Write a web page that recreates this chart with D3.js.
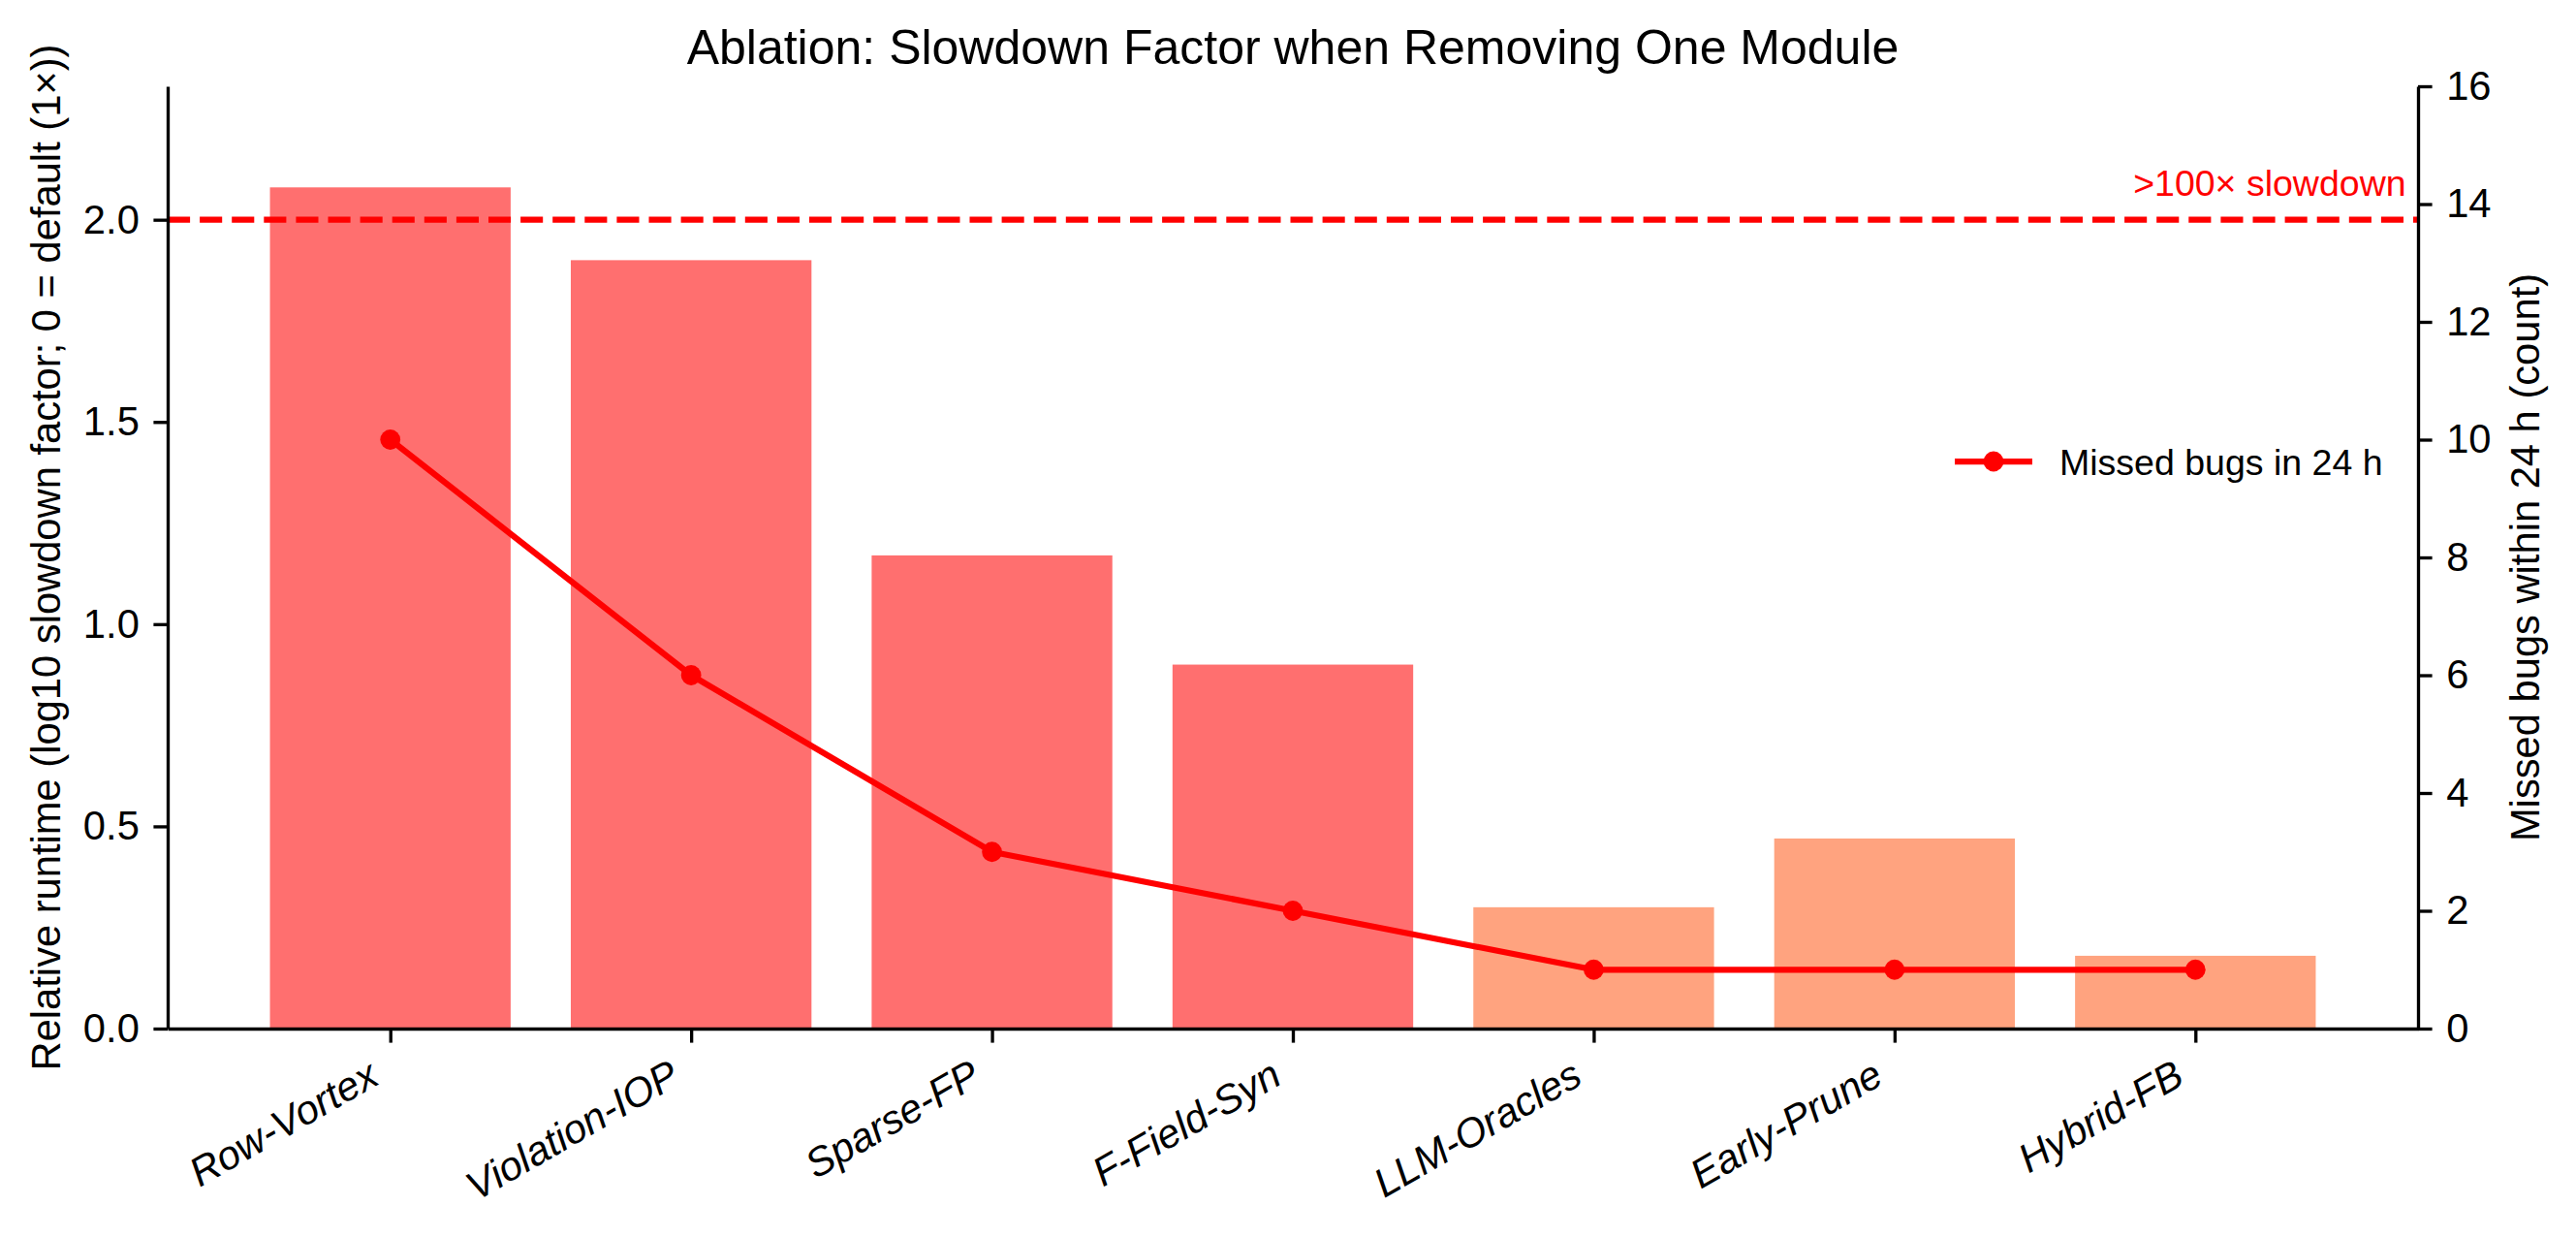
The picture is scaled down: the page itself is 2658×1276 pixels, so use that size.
<!DOCTYPE html>
<html>
<head>
<meta charset="utf-8">
<script src="https://cdn.jsdelivr.net/npm/d3@7"></script>
<style>
  html, body { margin: 0; padding: 0; background: #ffffff; }
  svg { display: block; }
  text { font-family: "Liberation Sans", Arial, Helvetica, sans-serif; }
</style>
</head>
<body>
<div id="chart"></div>
<script>
// ---- data ----
const categories = ["Row-Vortex", "Violation-IOP", "Sparse-FP", "F-Field-Syn", "LLM-Oracles", "Early-Prune", "Hybrid-FB"];
const slowdownLog10 = [2.08, 1.90, 1.17, 0.90, 0.30, 0.47, 0.18];
const missedBugs = [10, 6, 3, 2, 1, 1, 1];
const barGroup = ["high", "high", "high", "high", "low", "low", "low"];
const leftTicks = [0.0, 0.5, 1.0, 1.5, 2.0];
const rightTicks = [0, 2, 4, 6, 8, 10, 12, 14, 16];
const thresholdLog10 = 2.0;
const thresholdLabel = ">100\u00d7 slowdown";
const titleText = "Ablation: Slowdown Factor when Removing One Module";
const leftLabel = "Relative runtime (log10 slowdown factor; 0 = default (1\u00d7))";
const rightLabel = "Missed bugs within 24 h (count)";
const legendLabel = "Missed bugs in 24 h";

// ---- layout ----
const W = 2658, H = 1276;
const L = 173, R = 2495, T = 89, B = 1061;
const groupColor = { high: "#ff6f6f", low: "#ffa37f" };
const tickFont = 41.7, labelFont = 41.7, smallFont = 37.5, titleFont = 50;
const spineW = 3.33, tickLen = 14.6, tickPad = 14.6;

const svg = d3.select("#chart").append("svg").attr("width", W).attr("height", H);

const n = categories.length;
const x = d3.scaleLinear().domain([-0.74, n - 1 + 0.74]).range([L, R]);
const yL = d3.scaleLinear().domain([0, 2.33]).range([B, T]);
const yR = d3.scaleLinear().domain([0, 16]).range([B, T]);
const barW = x(0.8) - x(0);

// bars
svg.append("g").selectAll("rect").data(categories).join("rect")
  .attr("x", (d, i) => x(i) - barW / 2)
  .attr("width", barW)
  .attr("y", (d, i) => yL(slowdownLog10[i]))
  .attr("height", (d, i) => yL(0) - yL(slowdownLog10[i]))
  .attr("fill", (d, i) => groupColor[barGroup[i]]);

// threshold line
svg.append("line")
  .attr("x1", x.range()[0]).attr("x2", x.range()[1])
  .attr("y1", yL(thresholdLog10)).attr("y2", yL(thresholdLog10))
  .attr("stroke", "#ff0000").attr("stroke-width", 6.25)
  .attr("stroke-dasharray", "23.1,10");
svg.append("text")
  .attr("x", x(6.7)).attr("y", yL(thresholdLog10) - 25)
  .attr("text-anchor", "end").attr("fill", "#ff0000")
  .attr("font-size", smallFont).text(thresholdLabel);

function styleAxis(g) {
  g.select(".domain").attr("stroke", "#000").attr("stroke-width", spineW);
  g.selectAll(".tick line").attr("stroke", "#000").attr("stroke-width", spineW);
  g.selectAll(".tick text").attr("fill", "#000").attr("font-size", tickFont)
    .attr("font-family", "'Liberation Sans', Arial, sans-serif");
}

// bottom axis
const xAxis = svg.append("g").attr("transform", `translate(0,${B})`)
  .call(d3.axisBottom(x).tickValues(d3.range(n)).tickFormat(i => categories[i])
    .tickSize(tickLen).tickSizeOuter(0).tickPadding(tickPad));
styleAxis(xAxis);
xAxis.selectAll(".tick text")
  .attr("x", 0).attr("y", 0).attr("dy", null)
  .attr("text-anchor", "end")
  .attr("font-style", "italic")
  .attr("transform", "translate(-10,56) rotate(-30)");

// left axis
const yAxisL = svg.append("g").attr("transform", `translate(${L},0)`)
  .call(d3.axisLeft(yL).tickValues(leftTicks).tickFormat(d3.format(".1f"))
    .tickSize(tickLen).tickSizeOuter(0).tickPadding(tickPad));
styleAxis(yAxisL);

// right axis
const yAxisR = svg.append("g").attr("transform", `translate(${R},0)`)
  .call(d3.axisRight(yR).tickValues(rightTicks).tickFormat(d3.format("d"))
    .tickSize(tickLen).tickSizeOuter(0).tickPadding(tickPad));
styleAxis(yAxisR);

// line + markers
const line = d3.line().x((d, i) => x(i)).y(d => yR(d));
svg.append("path").datum(missedBugs)
  .attr("d", line).attr("fill", "none")
  .attr("stroke", "#ff0000").attr("stroke-width", 6.25)
  .attr("stroke-linejoin", "round").attr("stroke-linecap", "square");
svg.append("g").selectAll("circle").data(missedBugs).join("circle")
  .attr("cx", (d, i) => x(i)).attr("cy", d => yR(d))
  .attr("r", 10.4).attr("fill", "#ff0000");

// title
svg.append("text").attr("x", (L + R) / 2).attr("y", 66)
  .attr("text-anchor", "middle").attr("font-size", titleFont).text(titleText);

// axis labels
svg.append("text").attr("transform", `translate(62,${(T + B) / 2}) rotate(-90)`)
  .attr("text-anchor", "middle").attr("font-size", labelFont).text(leftLabel);
svg.append("text").attr("transform", `translate(2620,${(T + B) / 2}) rotate(-90)`)
  .attr("text-anchor", "middle").attr("font-size", labelFont).text(rightLabel);

// legend
const lg = svg.append("g");
lg.append("line").attr("x1", 2017).attr("x2", 2097).attr("y1", 476).attr("y2", 476)
  .attr("stroke", "#ff0000").attr("stroke-width", 6.25);
lg.append("circle").attr("cx", 2057).attr("cy", 476).attr("r", 10.4).attr("fill", "#ff0000");
lg.append("text").attr("x", 2125).attr("y", 490).attr("font-size", smallFont).text(legendLabel);
</script>
</body>
</html>
